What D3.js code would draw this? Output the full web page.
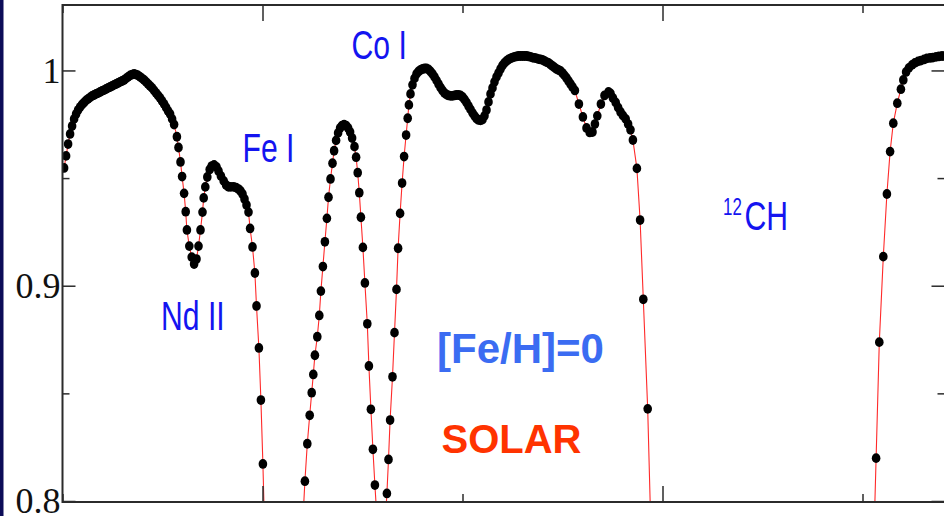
<!DOCTYPE html>
<html>
<head>
<meta charset="utf-8">
<script src="https://cdn.jsdelivr.net/npm/d3@7"></script>
<style>
  html, body { margin: 0; padding: 0; background: #fff; }
  svg { display: block; }
</style>
</head>
<body>
<svg id="chart" width="944" height="516"></svg>
<script>
// normalised flux vs wavelength (A), one array per stretch of spectrum above 0.8
const segNdFe = [
  [4299.504,0.9547],[4299.509,0.9603],[4299.514,0.9658],[4299.519,0.9705],[4299.524,0.9742],
  [4299.529,0.9775],[4299.534,0.9798],[4299.539,0.9816],[4299.544,0.9830],[4299.549,0.9842],
  [4299.554,0.9851],[4299.559,0.9861],[4299.564,0.9868],[4299.569,0.9875],[4299.574,0.9882],
  [4299.579,0.9886],[4299.584,0.9891],[4299.589,0.9895],[4299.594,0.9900],[4299.599,0.9905],
  [4299.604,0.9909],[4299.609,0.9914],[4299.614,0.9919],[4299.619,0.9923],[4299.624,0.9928],
  [4299.629,0.9933],[4299.634,0.9937],[4299.639,0.9942],[4299.644,0.9947],[4299.649,0.9951],
  [4299.654,0.9956],[4299.659,0.9963],[4299.664,0.9970],[4299.669,0.9977],[4299.674,0.9981],
  [4299.679,0.9984],[4299.684,0.9981],[4299.689,0.9977],[4299.694,0.9970],[4299.699,0.9963],
  [4299.704,0.9956],[4299.709,0.9947],[4299.714,0.9937],[4299.719,0.9928],[4299.724,0.9919],
  [4299.729,0.9907],[4299.734,0.9895],[4299.739,0.9884],[4299.744,0.9872],[4299.749,0.9858],
  [4299.754,0.9844],[4299.759,0.9828],[4299.764,0.9812],[4299.769,0.9798],[4299.774,0.9775],
  [4299.779,0.9749],[4299.786,0.9692],[4299.790,0.9642],[4299.795,0.9575],[4299.799,0.9507],
  [4299.804,0.9429],[4299.808,0.9344],[4299.811,0.9259],[4299.817,0.9184],[4299.823,0.9133],
  [4299.829,0.9101],[4299.835,0.9124],[4299.840,0.9184],[4299.845,0.9259],[4299.850,0.9342],
  [4299.853,0.9408],[4299.857,0.9459],[4299.862,0.9505],[4299.868,0.9540],[4299.873,0.9556],
  [4299.879,0.9561],[4299.885,0.9552],[4299.890,0.9533],[4299.896,0.9510],[4299.903,0.9487],
  [4299.909,0.9468],[4299.915,0.9459],[4299.921,0.9459],[4299.928,0.9459],[4299.934,0.9456],
  [4299.940,0.9449],[4299.945,0.9440],[4299.950,0.9426],[4299.955,0.9403],[4299.960,0.9375],
  [4299.965,0.9342],[4299.969,0.9266],[4299.975,0.9180],[4299.981,0.9059],[4299.985,0.8906],
  [4299.991,0.8711],[4299.996,0.8469],[4300.001,0.8172],[4300.006,0.7818]
];
const segFePeak = [
  [4300.101,0.7911],[4300.106,0.8092],[4300.112,0.8266],[4300.118,0.8398],[4300.123,0.8503],
  [4300.127,0.8588],[4300.131,0.8677],[4300.137,0.8763],[4300.142,0.8862],[4300.146,0.8975],
  [4300.151,0.9089],[4300.156,0.9204],[4300.161,0.9313],[4300.165,0.9411],[4300.170,0.9496],
  [4300.175,0.9569],[4300.179,0.9627],[4300.184,0.9675],[4300.189,0.9710],[4300.194,0.9733],
  [4300.199,0.9744],[4300.204,0.9748],[4300.209,0.9744],[4300.214,0.9733],[4300.219,0.9714],
  [4300.224,0.9686],[4300.230,0.9646],[4300.234,0.9597],[4300.238,0.9525],[4300.242,0.9432],
  [4300.246,0.9318],[4300.251,0.9178],[4300.256,0.9013],[4300.262,0.8823],[4300.266,0.8627],
  [4300.271,0.8426],[4300.276,0.8240],[4300.281,0.8074],[4300.286,0.7925]
];
const segCo = [
  [4300.306,0.7865],[4300.311,0.8035],[4300.315,0.8193],[4300.319,0.8376],[4300.325,0.8577],
  [4300.330,0.8782],[4300.335,0.8983],[4300.339,0.9174],[4300.344,0.9336],[4300.349,0.9477],
  [4300.354,0.9600],[4300.359,0.9700],[4300.363,0.9778],[4300.366,0.9840],[4300.370,0.9891],
  [4300.375,0.9933],[4300.380,0.9963],[4300.385,0.9984],[4300.390,0.9995],[4300.395,1.0002],
  [4300.400,1.0007],[4300.405,1.0009],[4300.410,1.0009],[4300.415,1.0005],[4300.420,0.9995],
  [4300.425,0.9984],[4300.430,0.9970],[4300.435,0.9954],[4300.440,0.9937],[4300.445,0.9921],
  [4300.450,0.9907],[4300.455,0.9895],[4300.460,0.9888],[4300.465,0.9884],[4300.470,0.9882],
  [4300.475,0.9882],[4300.480,0.9884],[4300.485,0.9886],[4300.490,0.9886],[4300.495,0.9884],
  [4300.500,0.9877],[4300.505,0.9865],[4300.510,0.9851],[4300.515,0.9835],[4300.520,0.9819],
  [4300.525,0.9803],[4300.530,0.9789],[4300.535,0.9777],[4300.540,0.9770],[4300.545,0.9768],
  [4300.550,0.9772],[4300.555,0.9789],[4300.560,0.9816],[4300.565,0.9854],[4300.570,0.9891],
  [4300.575,0.9919],[4300.580,0.9947],[4300.585,0.9970],[4300.590,0.9988],[4300.595,1.0007],
  [4300.600,1.0023],[4300.605,1.0035],[4300.610,1.0044],[4300.615,1.0051],[4300.620,1.0056],
  [4300.625,1.0060],[4300.630,1.0063],[4300.635,1.0065],[4300.640,1.0067],[4300.645,1.0067],
  [4300.650,1.0067],[4300.655,1.0067],[4300.660,1.0067],[4300.665,1.0065],[4300.670,1.0063],
  [4300.675,1.0060],[4300.680,1.0058],[4300.685,1.0056],[4300.690,1.0053],[4300.695,1.0051],
  [4300.700,1.0049],[4300.705,1.0044],[4300.710,1.0039],[4300.715,1.0035],[4300.720,1.0028],
  [4300.725,1.0021],[4300.730,1.0014],[4300.735,1.0007],[4300.740,1.0002],[4300.745,0.9998],
  [4300.750,0.9988],[4300.755,0.9977],[4300.760,0.9965],[4300.765,0.9951],[4300.770,0.9937],
  [4300.775,0.9923],[4300.781,0.9907],[4300.791,0.9844],[4300.801,0.9784],[4300.810,0.9733],
  [4300.818,0.9712],[4300.825,0.9714],[4300.831,0.9751],[4300.837,0.9789],[4300.846,0.9844],
  [4300.855,0.9884],[4300.865,0.9900],[4300.870,0.9893],[4300.876,0.9872],[4300.883,0.9851],
  [4300.889,0.9828],[4300.895,0.9807],[4300.901,0.9791],[4300.908,0.9775],[4300.914,0.9751],
  [4300.920,0.9724],[4300.926,0.9677],[4300.936,0.9545],[4300.944,0.9305],[4300.952,0.8937],
  [4300.963,0.8428],[4300.973,0.7725]
];
const segCH = [
  [4301.525,0.7586],[4301.534,0.8199],[4301.542,0.8738],[4301.552,0.9135],[4301.561,0.9426],
  [4301.569,0.9623],[4301.577,0.9755],[4301.587,0.9848],[4301.596,0.9913],[4301.602,0.9956],
  [4301.609,0.9993],[4301.616,1.0012],[4301.624,1.0026],[4301.631,1.0035],[4301.639,1.0042],
  [4301.646,1.0046],[4301.654,1.0051],[4301.661,1.0056],[4301.669,1.0058],[4301.676,1.0060],
  [4301.684,1.0063],[4301.691,1.0065],[4301.699,1.0067],[4301.706,1.0067]
];

const yMajor = [0.8, 0.9, 1.0];
const yMinor = [0.85, 0.95];
const xMajor = [4300.0, 4301.0];
const xMinor = [4299.5, 4300.5, 4301.5];

const speciesNames = ["Nd II", "Fe I", "Co I"];
const molecule = { iso: "12", name: "CH" };
const metallicity = "[Fe/H]=0";
const modelName = "SOLAR";

const svg = d3.select("#chart");
const W = 944, H = 516;
const plot = { left: 62.5, top: 5, right: 945.5, bottom: 502 };

const x = d3.scaleLinear().domain([4299.5, 4301.7075]).range([plot.left, plot.right]);
const y = d3.scaleLinear().domain([0.8, 1.0304]).range([501, plot.top]);

svg.append("rect").attr("width", W).attr("height", H).attr("fill", "#fff");
svg.append("rect").attr("x", 0).attr("y", 0).attr("width", 3.5).attr("height", H).attr("fill", "#0c0c58");

svg.append("clipPath").attr("id", "clip")
  .append("rect")
  .attr("x", plot.left).attr("y", plot.top)
  .attr("width", plot.right - plot.left).attr("height", plot.bottom - plot.top);

const data = svg.append("g").attr("clip-path", "url(#clip)");
const segments = [segNdFe, segFePeak, segCo, segCH];

const line = d3.line().x(d => x(d[0])).y(d => y(d[1]));

data.selectAll("path.spec")
  .data(segments)
  .join("path")
  .attr("class", "spec")
  .attr("d", line)
  .attr("fill", "none")
  .attr("stroke", "#ff2a2a")
  .attr("stroke-width", 1.1);

data.selectAll("g.dots")
  .data(segments)
  .join("g")
  .attr("class", "dots")
  .selectAll("ellipse")
  .data(d => d)
  .join("ellipse")
  .attr("cx", d => x(d[0]))
  .attr("cy", d => y(d[1]))
  .attr("rx", 4.3)
  .attr("ry", 4.9)
  .attr("fill", "#000");

// frame
svg.append("rect")
  .attr("x", plot.left).attr("y", plot.top)
  .attr("width", plot.right - plot.left).attr("height", plot.bottom - plot.top)
  .attr("fill", "none").attr("stroke", "#2b2b2b").attr("stroke-width", 2);

function addAxis(axis, transform) {
  const g = svg.append("g").attr("transform", transform).call(axis);
  g.select(".domain").remove();
  g.selectAll(".tick line").attr("stroke", "#2b2b2b").attr("stroke-width", 1.5);
  return g;
}

const yLabels = addAxis(
  d3.axisLeft(y).tickValues(yMajor).tickSize(-13).tickPadding(2)
    .tickFormat(d => d === 1 ? "1" : d3.format(".1f")(d)),
  `translate(${plot.left},0)`);
yLabels.attr("font-family", "'Liberation Serif', 'Times New Roman', serif").attr("font-size", 36);
yLabels.selectAll("text").attr("fill", "#111").attr("dy", "0.33em");

addAxis(d3.axisLeft(y).tickValues(yMinor).tickSize(-7).tickFormat(""), `translate(${plot.left},0)`);
addAxis(d3.axisRight(y).tickValues(yMajor).tickSize(-14).tickFormat(""), `translate(${plot.right},0)`);
addAxis(d3.axisRight(y).tickValues(yMinor).tickSize(-8).tickFormat(""), `translate(${plot.right},0)`);
addAxis(d3.axisTop(x).tickValues(xMajor).tickSize(-16).tickFormat(""), `translate(0,${plot.top})`);
addAxis(d3.axisTop(x).tickValues(xMinor).tickSize(-8).tickFormat(""), `translate(0,${plot.top})`);
addAxis(d3.axisBottom(x).tickValues(xMajor).tickSize(-16).tickFormat(""), `translate(0,${plot.bottom})`);
addAxis(d3.axisBottom(x).tickValues(xMinor).tickSize(-8).tickFormat(""), `translate(0,${plot.bottom})`);

// line identifications (narrow blue sans)
const labelPos = [[161, 329.5], [242.5, 161.5], [351.5, 58.5]];
const ann = svg.append("g")
  .attr("font-family", "'Liberation Sans', Arial, sans-serif")
  .attr("fill", "#1414f0");

ann.selectAll("text.species")
  .data(speciesNames)
  .join("text")
  .attr("class", "species")
  .attr("font-size", 41)
  .attr("transform", (d, i) => `translate(${labelPos[i][0]},${labelPos[i][1]}) scale(0.735,1)`)
  .text(d => d);

ann.append("text")
  .attr("font-size", 23)
  .attr("transform", "translate(723,215) scale(0.735,1)")
  .text(molecule.iso);
ann.append("text")
  .attr("font-size", 41)
  .attr("transform", "translate(744.5,230) scale(0.735,1)")
  .text(molecule.name);

svg.append("text")
  .attr("x", 437).attr("y", 363)
  .attr("font-family", "'Liberation Sans', Arial, sans-serif")
  .attr("font-weight", "bold").attr("font-size", 42)
  .attr("fill", "#3b6cf2")
  .text(metallicity);

svg.append("text")
  .attr("x", 441.5).attr("y", 452.5)
  .attr("font-family", "'Liberation Sans', Arial, sans-serif")
  .attr("font-weight", "bold").attr("font-size", 40)
  .attr("fill", "#ff3300")
  .text(modelName);
</script>
</body>
</html>
